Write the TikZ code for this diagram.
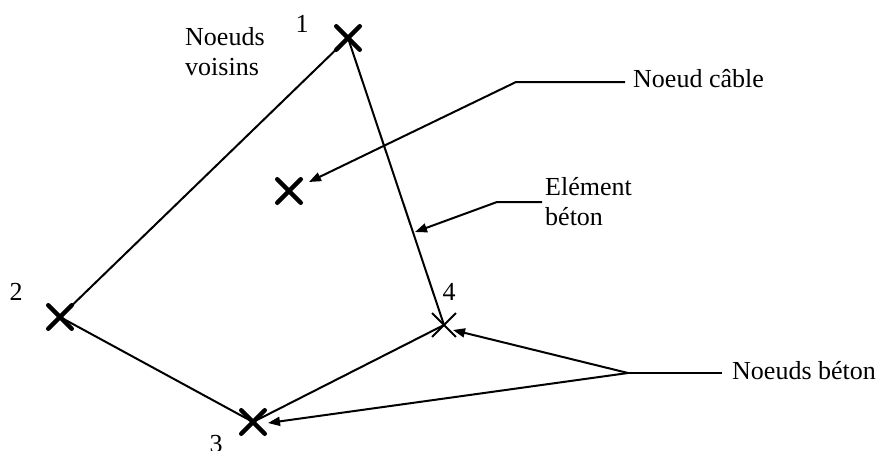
\documentclass[tikz,border=0pt]{standalone}
\usepackage{fontspec}
\setmainfont{Liberation Serif}
\usetikzlibrary{arrows.meta,shapes.misc}
\begin{document}
\begin{tikzpicture}[x=1pt,y=-1pt,
  every node/.style={font=\fontsize{26}{30}\selectfont, inner sep=0pt},
  thickx/.style={cross out, draw, line width=4.5pt, line cap=round, minimum size=19pt},
  thinx/.style={cross out, draw, line width=1.8pt, minimum size=22pt},
  edge/.style={line width=2pt},
  lead/.style={line width=2pt, -{Triangle[length=12pt,width=9pt]}},
  txt/.style={anchor=base west, align=left}
]
\useasboundingbox (0,0) rectangle (883,450);
% nodes
\node[thickx] (n1) at (348,38) {};
\node[thickx] (n2) at (60,317) {};
\node[thickx] (n3) at (253,422) {};
\node[thinx]  (n4) at (444,325) {};
\node[thickx] (nc) at (289,191) {};
% numbers
\node[anchor=base] (l1) at (302,32) {1};
\node[anchor=base] (l2) at (16,300) {2};
\node[anchor=base] (l3) at (216,452) {3};
\node[anchor=base] (l4) at (449,300) {4};
% concrete element edges
\draw[edge] (n1.center) -- (n2.center);
\draw[edge] (n2.center) -- (n3.center);
\draw[edge] (n3.center) -- (n4.center);
\draw[edge] (n1.center) -- (n4.center);
% texts (base = baseline of last line)
\node[txt] (tv) at (185,75) {Noeuds\\voisins};
\node[txt] (tc) at (633,87) {Noeud câble};
\node[txt] (te) at (545,225) {Elément\\béton};
\node[txt] (tb) at (732,379) {Noeuds béton};
% leader coordinates
\coordinate (ce) at (625,82);
\coordinate (cb) at (516,82);
\coordinate (ct) at (309,182);
\coordinate (ee) at (542,202);
\coordinate (eb) at (497,202);
\coordinate (et) at (415,232);
\coordinate (be) at (722,373);
\coordinate (bb) at (628,373);
\coordinate (bt4) at (453,330);
\coordinate (bt3) at (268,423);
\draw[lead] (ce) -- (cb) -- (ct);
\draw[lead] (ee) -- (eb) -- (et);
\draw[edge] (be) -- (bb);
\draw[lead] (bb) -- (bt4);
\draw[lead] (bb) -- (bt3);
\end{tikzpicture}
\end{document}
